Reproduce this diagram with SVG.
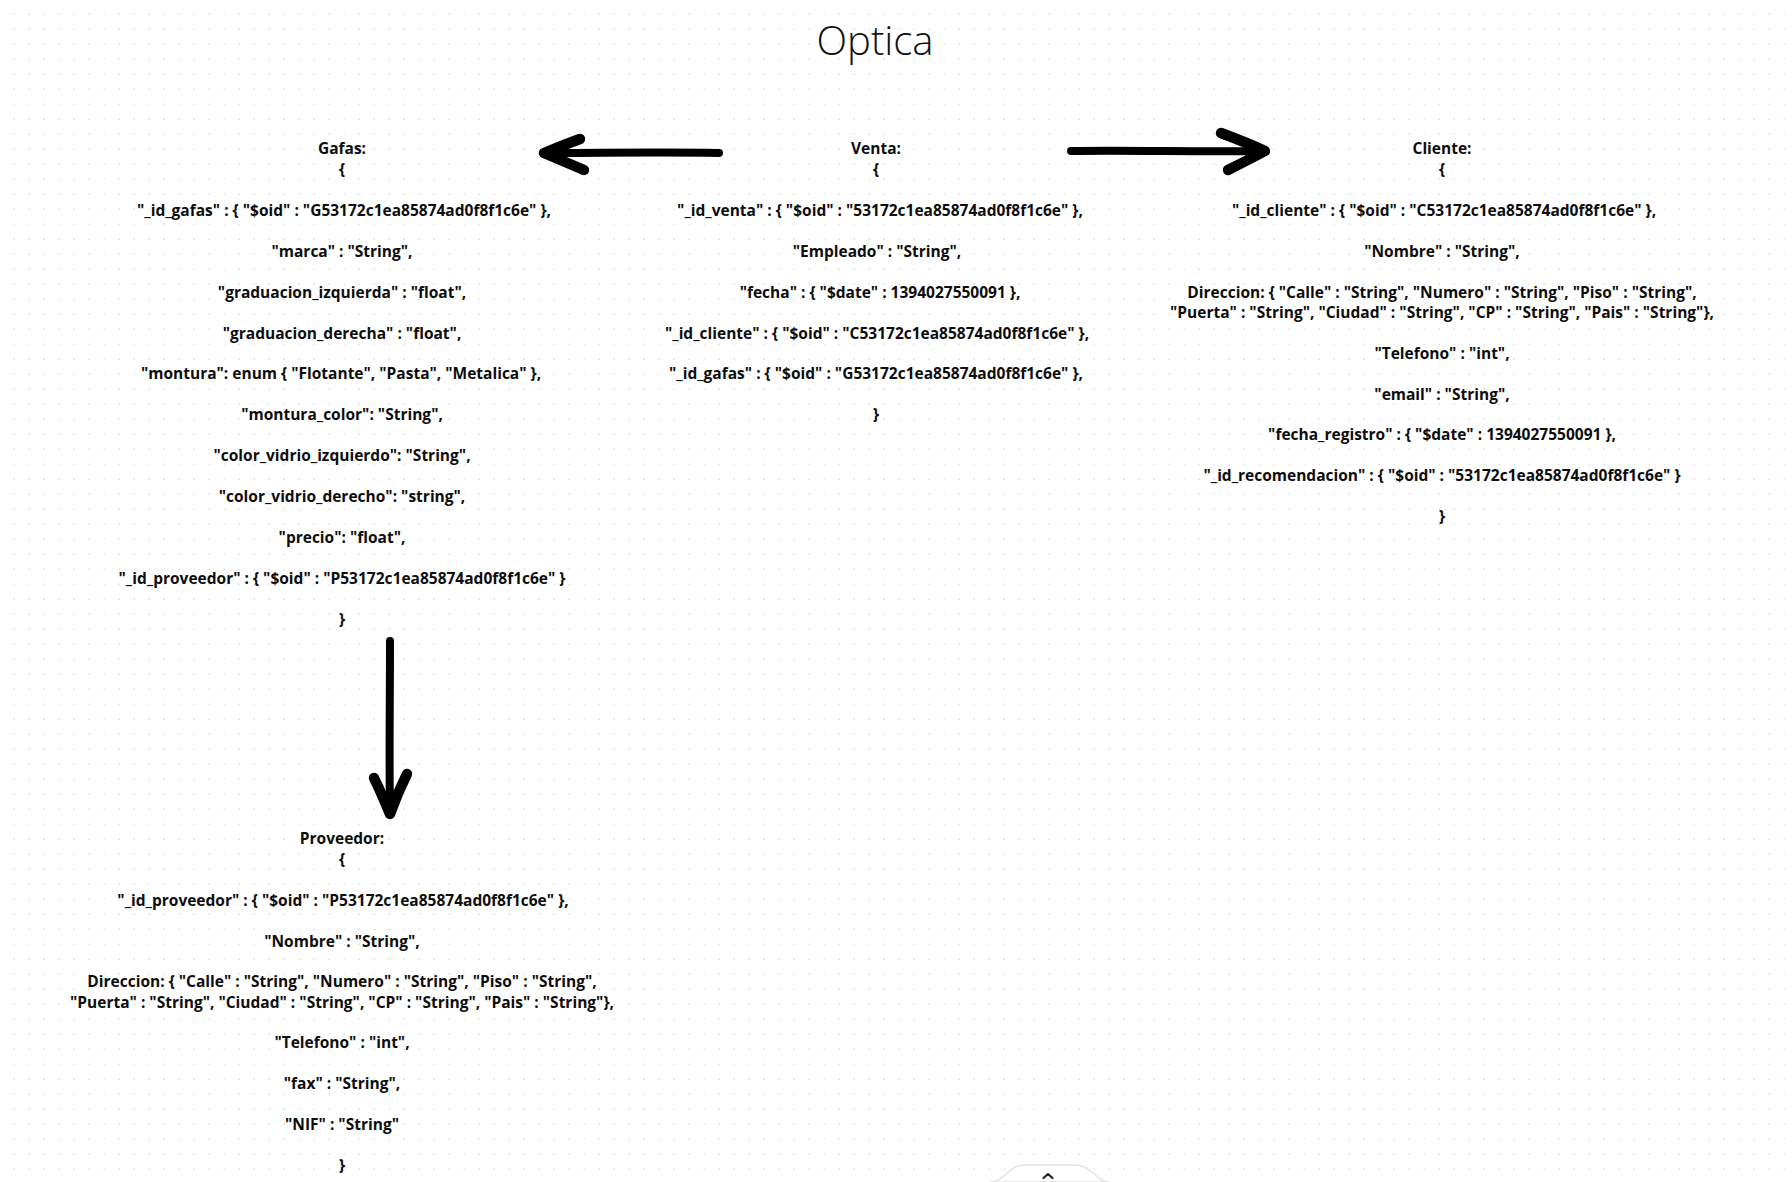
<svg xmlns="http://www.w3.org/2000/svg" width="1792" height="1182" viewBox="0 0 1792 1182">
<defs>
<pattern id="dots" x="0" y="0" width="15" height="15" patternUnits="userSpaceOnUse">
<rect x="13.6" y="13.6" width="2.8" height="2.8" fill="#d8d9e2"/>
</pattern>
<style>
.t{font-family:"Open Sans","Liberation Sans",sans-serif;font-weight:700;font-size:15.5px;text-anchor:middle;fill:#0d0d0d}
.title{font-family:"Open Sans","Liberation Sans",sans-serif;font-weight:300;font-size:40px;text-anchor:middle;fill:#111}
.shaft{fill:none;stroke:#000;stroke-width:8;stroke-linecap:round;stroke-linejoin:round}
.head{fill:none;stroke:#000;stroke-width:10.5;stroke-linecap:round;stroke-linejoin:round}
</style>
</defs>
<rect width="1792" height="1182" fill="#fff"/>
<rect width="1792" height="1182" fill="url(#dots)"/>

<text id="title" class="title" x="875" y="55">Optica</text>

<g id="gafas" transform="translate(0,1)">
<text class="t" x="342" y="153">Gafas:</text>
<text class="t" x="342" y="174">{</text>
<text class="t" x="344" y="215">"_id_gafas" : { "$oid" : "G53172c1ea85874ad0f8f1c6e" },</text>
<text class="t" x="342" y="256">"marca" : "String",</text>
<text class="t" x="342" y="297">"graduacion_izquierda" : "float",</text>
<text class="t" x="342" y="337.5">"graduacion_derecha" : "float",</text>
<text class="t" x="341" y="378">"montura": enum { "Flotante", "Pasta", "Metalica" },</text>
<text class="t" x="342" y="419">"montura_color": "String",</text>
<text class="t" x="342" y="460">"color_vidrio_izquierdo": "String",</text>
<text class="t" x="342" y="501">"color_vidrio_derecho": "string",</text>
<text class="t" x="342" y="542">"precio": "float",</text>
<text class="t" x="342" y="583">"_id_proveedor" : { "$oid" : "P53172c1ea85874ad0f8f1c6e" }</text>
<text class="t" x="342" y="623.5">}</text>
</g>

<g id="venta" transform="translate(0,1)">
<text class="t" x="876" y="153">Venta:</text>
<text class="t" x="876" y="174">{</text>
<text class="t" x="880" y="215">"_id_venta" : { "$oid" : "53172c1ea85874ad0f8f1c6e" },</text>
<text class="t" x="877" y="256">"Empleado" : "String",</text>
<text class="t" x="880" y="297">"fecha" : { "$date" : 1394027550091 },</text>
<text class="t" x="877" y="337.5">"_id_cliente" : { "$oid" : "C53172c1ea85874ad0f8f1c6e" },</text>
<text class="t" x="876" y="378">"_id_gafas" : { "$oid" : "G53172c1ea85874ad0f8f1c6e" },</text>
<text class="t" x="876" y="419">}</text>
</g>

<g id="cliente" transform="translate(0,1)">
<text class="t" x="1442" y="153">Cliente:</text>
<text class="t" x="1442" y="174">{</text>
<text class="t" x="1444" y="215">"_id_cliente" : { "$oid" : "C53172c1ea85874ad0f8f1c6e" },</text>
<text class="t" x="1442" y="256">"Nombre" : "String",</text>
<text class="t" x="1442" y="297">Direccion: { "Calle" : "String", "Numero" : "String", "Piso" : "String",</text>
<text class="t" x="1442" y="317">"Puerta" : "String", "Ciudad" : "String", "CP" : "String", "Pais" : "String"},</text>
<text class="t" x="1442" y="358">"Telefono" : "int",</text>
<text class="t" x="1442" y="398.5">"email" : "String",</text>
<text class="t" x="1442" y="439">"fecha_registro" : { "$date" : 1394027550091 },</text>
<text class="t" x="1442" y="480">"_id_recomendacion" : { "$oid" : "53172c1ea85874ad0f8f1c6e" }</text>
<text class="t" x="1442" y="521">}</text>
</g>

<g id="proveedor" transform="translate(0,1)">
<text class="t" x="342" y="843">Proveedor:</text>
<text class="t" x="342" y="864">{</text>
<text class="t" x="343" y="905">"_id_proveedor" : { "$oid" : "P53172c1ea85874ad0f8f1c6e" },</text>
<text class="t" x="342" y="945.5">"Nombre" : "String",</text>
<text class="t" x="342" y="986">Direccion: { "Calle" : "String", "Numero" : "String", "Piso" : "String",</text>
<text class="t" x="342" y="1006.5">"Puerta" : "String", "Ciudad" : "String", "CP" : "String", "Pais" : "String"},</text>
<text class="t" x="342" y="1047">"Telefono" : "int",</text>
<text class="t" x="342" y="1088">"fax" : "String",</text>
<text class="t" x="342" y="1129">"NIF" : "String"</text>
<text class="t" x="342" y="1169.5">}</text>
</g>

<g id="connectors">
<g id="venta-gafas">
<path class="shaft" d="M 719 153 C 660 152, 600 153, 546 153"/>
<path class="head" d="M 580 139 C 566 144, 554 149, 544 153 C 556 158, 570 164, 584 170"/>
</g>
<g id="venta-cliente">
<path class="shaft" d="M 1071 151 C 1130 150, 1200 152, 1262 151"/>
<path class="head" d="M 1221 133 C 1237 139, 1252 145, 1265 151 C 1252 158, 1240 164, 1228 170"/>
</g>
<g id="gafas-proveedor">
<path class="shaft" d="M 390 641 C 390 700, 389 760, 390 812"/>
<path class="head" d="M 374 778 C 380 790, 385 802, 390 814 C 395 800, 401 786, 407 774"/>
</g>
</g>

<g id="page-tab">
<path d="M 990 1182 C 1004 1182, 1008 1165, 1025 1165 L 1075 1165 C 1092 1165, 1096 1182, 1110 1182 Z" fill="#fff" stroke="#e4e4e4" stroke-width="1.5"/>
<polyline points="1043.5,1178 1048,1174 1052.5,1178" fill="none" stroke="#222" stroke-width="2.2" stroke-linecap="round" stroke-linejoin="round"/>
</g>
</svg>
